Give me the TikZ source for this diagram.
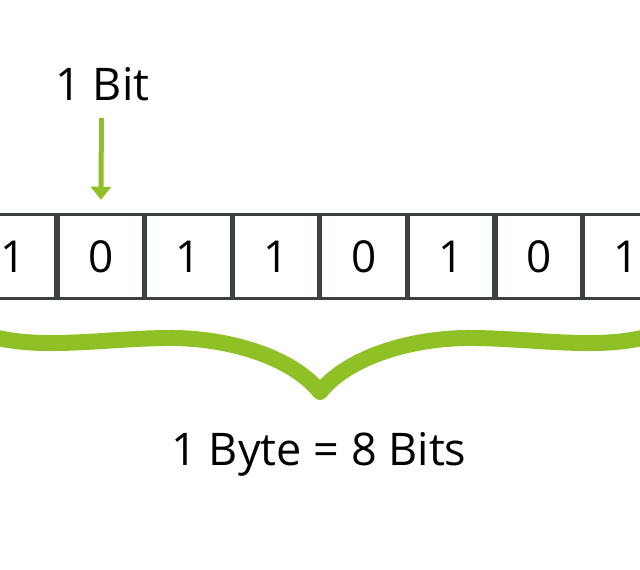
\documentclass[tikz,border=0pt]{standalone}
\usepackage{fontspec}
\setmainfont{Open Sans}
\usetikzlibrary{arrows.meta}
\definecolor{bitgreen}{HTML}{8FC026}
\definecolor{boxline}{HTML}{3A4240}
\tikzset{
  bitbox/.style={draw=boxline, line width=3.5pt, fill=white, minimum width=86pt, minimum height=84pt, inner sep=0pt, font=\fontsize{44}{44}\selectfont},
  lbl/.style={anchor=base, inner sep=0pt, text=black},
  greenarrow/.style={draw=bitgreen, line width=5pt, -{Triangle[width=20pt,length=13pt]}},
  bracestyle/.style={draw=bitgreen, line width=16pt, line join=round, line cap=round}
}
\begin{document}
\begin{tikzpicture}[x=1pt,y=-1pt]
\useasboundingbox (0,0) rectangle (640,570);
\clip (0,0) rectangle (640,570);
\fill[white] (0,0) rectangle (640,570);
\foreach \v [count=\i from 0] in {1,0,1,1,0,1,0,1} {
  \node[bitbox] (b\i) at ({13.2+87.6*\i},256.5) {\v};
}
\node[lbl, font=\fontsize{45}{45}\selectfont] (bitlabel) at (102.5,100) {1 Bit};
\coordinate (arrowstart) at (101.5,118);
\draw[greenarrow, shorten >=13pt] (arrowstart) -- (b1.north);
\draw[bracestyle] (-10,336) .. controls (40,350) and (100,339) .. (165,338)
  .. controls (230,337) and (293,358) .. (320,392)
  .. controls (347,358) and (410,337) .. (475,338)
  .. controls (540,339) and (600,350) .. (650,336);
\node[lbl, font=\fontsize{45}{45}\selectfont] (bytelabel) at (319,465) {1 Byte = 8 Bits};
\end{tikzpicture}
\end{document}
